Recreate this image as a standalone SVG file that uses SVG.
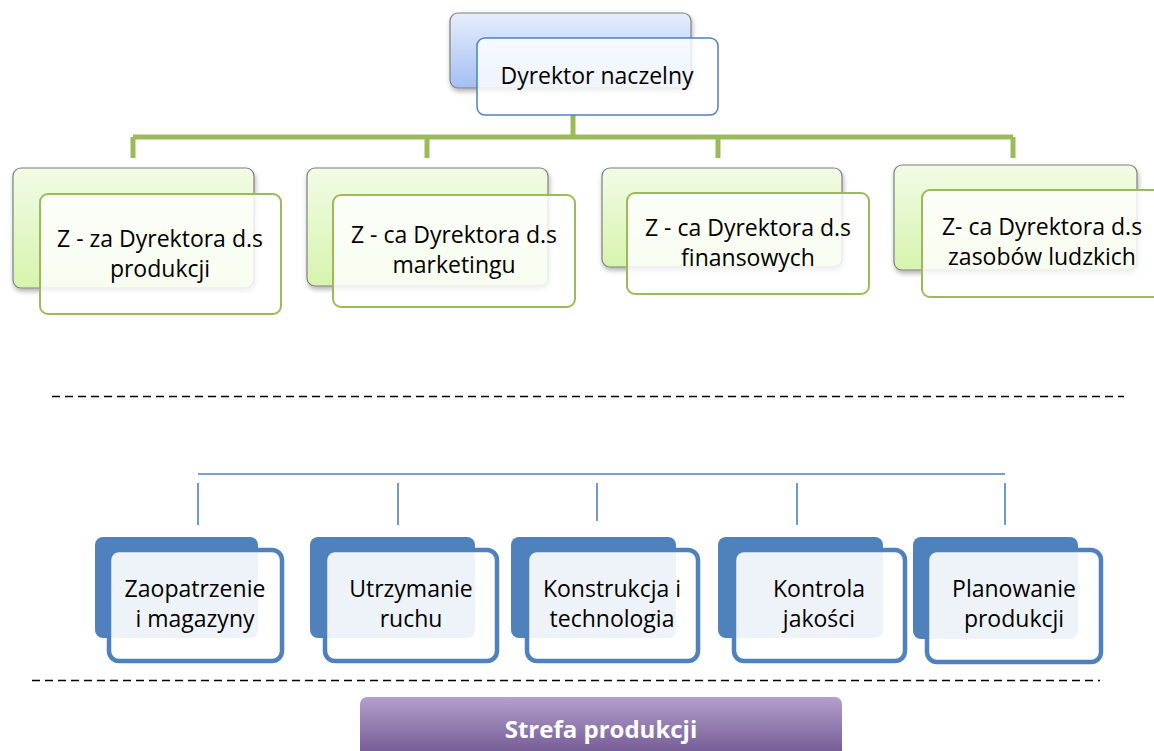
<svg xmlns="http://www.w3.org/2000/svg" width="1154" height="751" viewBox="0 0 1154 751">
<style>
text{font-family:"Open Sans","Liberation Sans",sans-serif;font-size:23px;fill:#000;text-anchor:middle}
.gback{fill:url(#gGreen);stroke:#7f7f7f;stroke-width:1.2;filter:url(#sh)}
.gfront{fill:#fff;fill-opacity:0.82;stroke:#9bbb59;stroke-width:2}
.bback{fill:#4f81bd}
.bfront{fill:#fff;fill-opacity:0.9;stroke:#4f81bd;stroke-width:4.5}
.gline{stroke:#9bbb59;stroke-width:5;fill:none}
.bline{stroke:#4f81bd;stroke-width:1.6;fill:none}
.dash{stroke:#000;stroke-width:1.3;stroke-dasharray:8 5;fill:none}
</style>
<defs>
<linearGradient id="gGreen" x1="0" y1="0" x2="0" y2="1"><stop offset="0" stop-color="#f2fbe6"/><stop offset="1" stop-color="#d6f4ad"/></linearGradient>
<linearGradient id="gBlue" x1="0" y1="0" x2="0" y2="1"><stop offset="0" stop-color="#e6eefc"/><stop offset="1" stop-color="#a3bff3"/></linearGradient>
<linearGradient id="gPurple" x1="0" y1="0" x2="0" y2="1"><stop offset="0" stop-color="#b3a0cc"/><stop offset="1" stop-color="#654a88"/></linearGradient>
<filter id="sh" x="-10%" y="-10%" width="130%" height="140%"><feDropShadow dx="1" dy="3" stdDeviation="2.5" flood-color="#000" flood-opacity="0.3"/></filter>
</defs>

<g id="connectors">
<path class="gline" d="M573 115V137M133 137H1013M133 137V158M427 137V158M718 137V158M1013 137V158"/>
<path class="bline" d="M198 474H1005M198 483V525M398 483V525M597 483V521M797 483V525M1005 483V525"/>
<path class="dash" d="M52 396.5H1124"/>
<path class="dash" d="M32 680.5H1100"/>
</g>

<g id="n-dyrektor">
<rect x="450" y="13" width="241" height="75" rx="8" fill="url(#gBlue)" stroke="#7f7f7f" stroke-width="1.2" filter="url(#sh)"/>
<rect x="477" y="38" width="241" height="77" rx="8" fill="#fff" fill-opacity="0.82" stroke="#4f81bd" stroke-width="1.5"/>
<text x="597" y="84">Dyrektor naczelny</text>
</g>

<g id="n-produkcji">
<rect class="gback" x="13" y="168" width="241" height="120" rx="8"/>
<rect class="gfront" x="40" y="194" width="241" height="120" rx="8"/>
<text x="160" y="247">Z - za Dyrektora d.s</text>
<text x="160" y="277">produkcji</text>
</g>

<g id="n-marketingu">
<rect class="gback" x="307" y="168" width="241" height="118" rx="8"/>
<rect class="gfront" x="333" y="195" width="242" height="112" rx="8"/>
<text x="454" y="243">Z - ca Dyrektora d.s</text>
<text x="454" y="273">marketingu</text>
</g>

<g id="n-finansowych">
<rect class="gback" x="602" y="168" width="240" height="99" rx="8"/>
<rect class="gfront" x="627" y="193" width="242" height="101" rx="8"/>
<text x="748" y="236">Z - ca Dyrektora d.s</text>
<text x="748" y="266">finansowych</text>
</g>

<g id="n-zasobow">
<rect class="gback" x="894" y="165" width="243" height="105" rx="8"/>
<rect class="gfront" x="922" y="190" width="242" height="107" rx="8"/>
<text x="1042" y="235">Z- ca Dyrektora d.s</text>
<text x="1042" y="265">zasobów ludzkich</text>
</g>

<g id="n-zaopatrzenie">
<rect class="bback" x="95" y="537" width="163" height="101" rx="8"/>
<rect class="bfront" x="109" y="550" width="173" height="111" rx="10"/>
<text x="195" y="597">Zaopatrzenie</text>
<text x="195" y="627">i magazyny</text>
</g>

<g id="n-utrzymanie">
<rect class="bback" x="310" y="537" width="165" height="101" rx="8"/>
<rect class="bfront" x="325" y="550" width="172" height="111" rx="10"/>
<text x="411" y="597">Utrzymanie</text>
<text x="411" y="627">ruchu</text>
</g>

<g id="n-konstrukcja">
<rect class="bback" x="511" y="537" width="165" height="101" rx="8"/>
<rect class="bfront" x="527" y="550" width="171" height="111" rx="10"/>
<text x="612" y="597">Konstrukcja i</text>
<text x="612" y="627">technologia</text>
</g>

<g id="n-kontrola">
<rect class="bback" x="718" y="537" width="165" height="101" rx="8"/>
<rect class="bfront" x="734" y="550" width="171" height="111" rx="10"/>
<text x="819" y="597">Kontrola</text>
<text x="819" y="627">jakości</text>
</g>

<g id="n-planowanie">
<rect class="bback" x="913" y="537" width="165" height="102" rx="8"/>
<rect class="bfront" x="927" y="550" width="174" height="112" rx="10"/>
<text x="1014" y="597">Planowanie</text>
<text x="1014" y="627">produkcji</text>
</g>

<g id="n-strefa">
<rect x="360" y="697" width="482" height="70" rx="7" fill="url(#gPurple)"/>
<text x="601" y="738" style="fill:#fff;font-weight:bold;font-size:24px">Strefa produkcji</text>
</g>
</svg>
